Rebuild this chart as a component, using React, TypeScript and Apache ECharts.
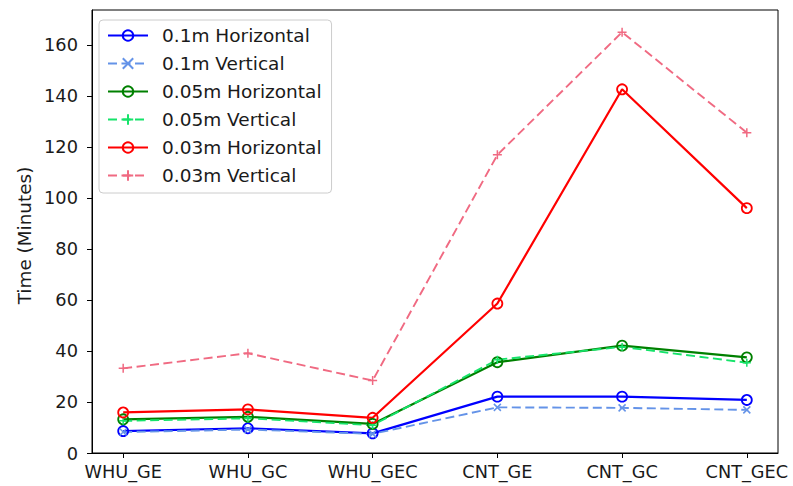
import React, { useEffect, useRef } from "react";
import * as echarts from "echarts";

const categories = ["WHU_GE", "WHU_GC", "WHU_GEC", "CNT_GE", "CNT_GC", "CNT_GEC"];
const yTicks = [0, 20, 40, 60, 80, 100, 120, 140, 160];

const h01 = [8.6, 9.7, 7.7, 22.1, 22.1, 20.8];
const v01 = [8.2, 9.2, 7.5, 17.9, 17.7, 16.9];
const h005 = [13.2, 14.2, 11.4, 35.6, 42.1, 37.5];
const v005 = [12.6, 13.6, 10.9, 36.6, 41.6, 35.4];
const h003 = [15.9, 17.1, 13.8, 58.6, 142.6, 96.0];
const v003 = [33.2, 39.1, 28.4, 116.9, 165.0, 125.6];

const FONT = "DejaVu Sans";
const TEXT = "#1a1a1a";
const CROSS = "path://M0,0L10,10M10,0L0,10";
const PLUS = "path://M5,0L5,10M0,5L10,5";

type Spec = {
  name: string;
  values: number[];
  color: string;
  dashed: boolean;
  symbol: string;
  symbolSize: number;
};

const specs: Spec[] = [
  { name: "0.1m Horizontal", values: h01, color: "#0000ff", dashed: false, symbol: "circle", symbolSize: 10 },
  { name: "0.1m Vertical", values: v01, color: "#6493e8", dashed: true, symbol: CROSS, symbolSize: 7 },
  { name: "0.05m Horizontal", values: h005, color: "#008000", dashed: false, symbol: "circle", symbolSize: 10 },
  { name: "0.05m Vertical", values: v005, color: "#16e36a", dashed: true, symbol: PLUS, symbolSize: 8 },
  { name: "0.03m Horizontal", values: h003, color: "#ff0000", dashed: false, symbol: "circle", symbolSize: 10 },
  { name: "0.03m Vertical", values: v003, color: "#f06a82", dashed: true, symbol: PLUS, symbolSize: 9 },
];

export default function App() {
  const ref = useRef<HTMLDivElement>(null);

  useEffect(() => {
    if (!ref.current) return;
    const chart = echarts.init(ref.current, null, { renderer: "svg" });

    const series = specs.map((s) => ({
      name: s.name,
      type: "line",
      data: s.values.map((v, i) => [i, v]),
      symbol: s.symbol,
      symbolSize: s.symbolSize,
      showAllSymbol: true,
      lineStyle: {
        color: s.color,
        width: s.dashed ? 1.9 : 2.2,
        type: s.dashed ? [9, 4.5] : "solid",
      },
      itemStyle: {
        color: s.dashed ? "none" : "rgba(255,255,255,0)",
        borderColor: s.color,
        borderWidth: s.dashed ? 1.5 : 1.8,
      },
      emphasis: { disabled: true },
      z: 2,
    }));

    chart.setOption({
      animation: false,
      backgroundColor: "#ffffff",
      textStyle: { fontFamily: FONT },
      grid: {
        left: 92,
        right: 15,
        top: 10,
        bottom: 33,
        show: true,
        borderColor: "#000",
        borderWidth: 1,
        backgroundColor: "transparent",
      },
      legend: {
        orient: "vertical",
        left: 99,
        top: 20,
        padding: [6, 10, 8, 8],
        itemWidth: 40,
        itemHeight: 13,
        itemGap: 9,
        backgroundColor: "#fff",
        borderColor: "#cccccc",
        borderWidth: 1,
        borderRadius: 4,
        selectedMode: false,
        textStyle: {
          fontFamily: FONT,
          fontSize: 18.5,
          lineHeight: 18.5,
          color: TEXT,
          padding: [0, 0, 0, 9],
        },
        data: specs.map((s) => s.name),
      },
      xAxis: {
        type: "value",
        min: -0.25,
        max: 5.25,
        splitLine: { show: false },
        axisLine: { onZero: false, lineStyle: { color: "#000", width: 1 } },
        axisTick: {
          length: 5,
          lineStyle: { color: "#000" },
          customValues: categories.map((_, i) => i),
        },
        axisLabel: {
          margin: 10,
          fontFamily: FONT,
          fontSize: 17.7,
          color: TEXT,
          customValues: categories.map((_, i) => i),
          formatter: (v: number) => categories[Math.round(v)] ?? "",
        },
      },
      yAxis: {
        type: "value",
        min: 0,
        max: 173.7,
        name: "Time (Minutes)",
        nameLocation: "middle",
        nameGap: 59,
        nameTextStyle: {
          fontFamily: FONT,
          fontSize: 18.4,
          color: TEXT,
          padding: [0, 8, 0, 0],
        },
        splitLine: { show: false },
        axisLine: { show: true, onZero: false, lineStyle: { color: "#000", width: 1 } },
        axisTick: { length: 5, lineStyle: { color: "#000" }, customValues: yTicks },
        axisLabel: {
          margin: 14,
          fontFamily: FONT,
          fontSize: 17.8,
          color: TEXT,
          customValues: yTicks,
        },
      },
      series,
    });

    return () => chart.dispose();
  }, []);

  return <div ref={ref} style={{ width: 793, height: 486, position: "absolute", left: 0, top: 0 }} />;
}
